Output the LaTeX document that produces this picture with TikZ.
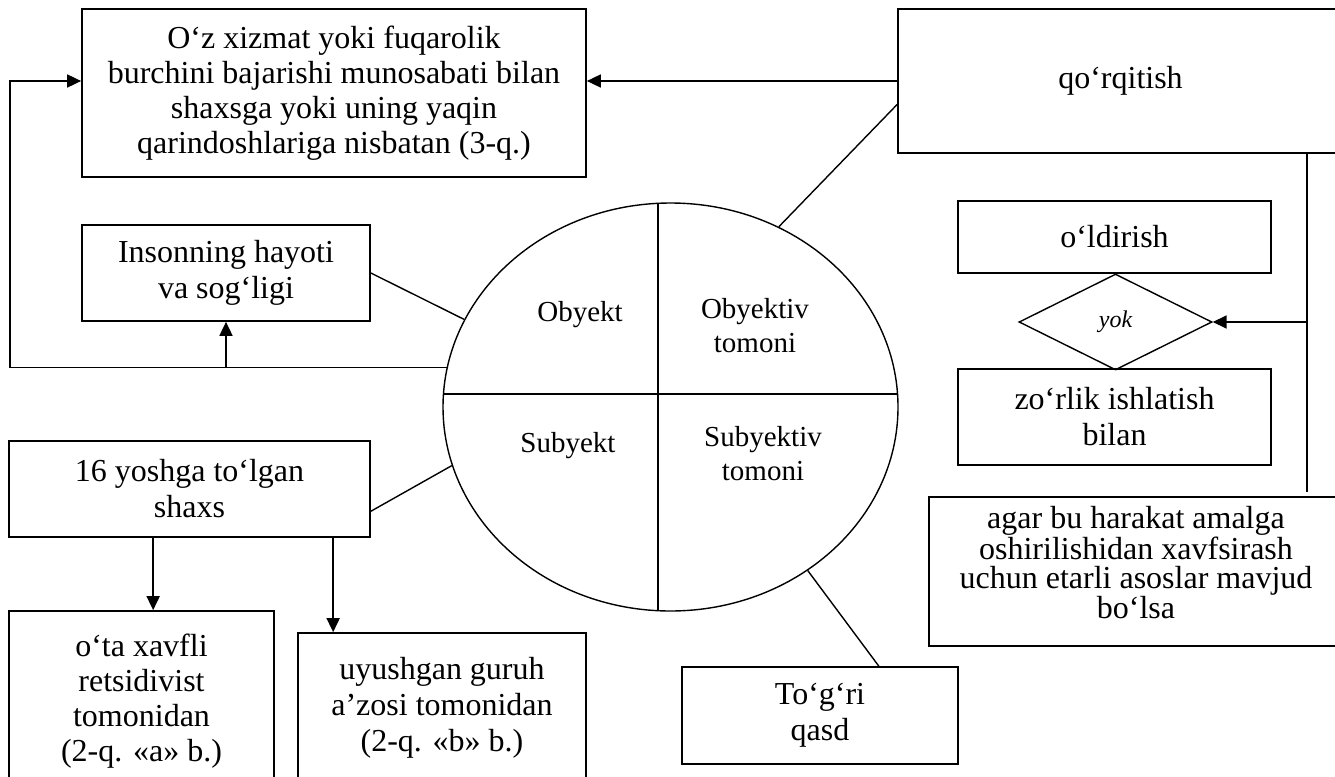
\documentclass[tikz,border=0pt]{standalone}
\usepackage{fontspec}
\setmainfont{Liberation Serif}
\usetikzlibrary{shapes.geometric,arrows.meta}
\begin{document}
\begin{tikzpicture}[x=1pt,y=-1pt,
  box/.style={draw,line width=1.7pt,inner sep=0pt,align=center,font=\fontsize{32}{36}\selectfont},
  arr/.style={line width=1.7pt,-{Triangle[length=14pt,width=13pt]}},
  conn/.style={line width=1.4pt},
  lbl/.style={align=center,font=\fontsize{29}{34}\selectfont,inner sep=0pt}]
\clip (0,0) rectangle (1335,776);
\fill[white] (0,0) rectangle (1335,776);

% boxes
\node[box,minimum width=504pt,minimum height=168pt,font=\fontsize{32}{35}\selectfont] (tb) at (334,93)
  {O‘z xizmat yoki fuqarolik\\burchini bajarishi munosabati bilan\\shaxsga yoki uning yaqin\\qarindoshlariga nisbatan (3-q.)};
\node[box,minimum width=445pt,minimum height=144pt] (qo) at (1120.5,81) {qo‘rqitish};
\node[box,minimum width=288pt,minimum height=96pt] (ins) at (226,273) {Insonning hayoti\\va sog‘ligi};
\node[box,minimum width=361pt,minimum height=96pt] (yo) at (189.5,489) {16 yoshga to‘lgan\\shaxs};
\node[box,minimum width=265pt,minimum height=180pt,font=\fontsize{32}{35}\selectfont] (ota) at (141.5,701)
  {o‘ta xavfli\\retsidivist\\tomonidan\\(2-q. «a» b.)};
\node[box,minimum width=288pt,minimum height=150pt] (uy) at (442,708)
  {uyushgan guruh\\a’zosi tomonidan\\(2-q. «b» b.)};
\node[box,minimum width=276pt,minimum height=97pt] (tq) at (820,715.5) {To‘g‘ri\\qasd};
\node[box,minimum width=313pt,minimum height=72pt] (ol) at (1114.5,237) {o‘ldirish};
\node[draw,diamond,line width=1.4pt,minimum width=193pt,minimum height=96pt,inner sep=0pt,
  font=\fontsize{24}{28}\selectfont\itshape] (dm) at (1115.5,322) {yok};
\node[box,minimum width=313pt,minimum height=96pt] (zo) at (1114.5,417) {zo‘rlik ishlatish\\bilan};
\node[box,minimum width=414pt,minimum height=149pt,font=\fontsize{32}{29}\selectfont] (ag) at (1136,571.5)
  {agar bu harakat amalga\\oshirilishidan xavfsirash\\uchun etarli asoslar mavjud\\bo‘lsa\rule[-18pt]{0pt}{1pt}};

% ellipse
\node[draw,ellipse,line width=1.4pt,minimum width=455pt,minimum height=408pt,inner sep=0pt] (ell) at (670.5,407) {};
\coordinate (et) at (658,203.3);
\coordinate (eb) at (658,610.7);
\coordinate (el) at (443.5,394);
\coordinate (er) at (897.5,394);
\draw[conn] (et) -- (eb);
\draw[conn] (el) -- (er);
\node[lbl] (l1) at (580,315) {Obyekt};
\node[lbl] (l2) at (755,326) {Obyektiv\\tomoni};
\node[lbl] (l3) at (568,446) {Subyekt};
\node[lbl] (l4) at (763,453.5) {Subyektiv\\tomoni};

% connectors
\coordinate (xl) at (10,81);
\coordinate (xr) at (1307,0);
\coordinate (vb) at ([yshift=4pt]ag.north);
\draw[arr] (qo.west) -- (qo.west -| tb.east);
\draw[arr] (ell.170.3) -| (xl) -- (tb.west |- qo.west);
\draw[arr] (ins.south |- ell.170.3) -- (ins.south);
\draw[conn] (ins.east) -- (ell.157);
\draw[conn] (yo.-7.6) -- (ell.195.6);
\draw[conn] (qo.186.4) -- (ell.59.4);
\draw[conn] (ell.310.5) -- (tq.40.4);
\coordinate (a1) at ([xshift=145pt]yo.south west);
\coordinate (a2) at ([xshift=325pt]yo.south west);
\draw[arr] (a1) -- (a1 |- ota.north);
\draw[arr] (a2) -- (a2 |- uy.north);
\draw[line width=1.7pt] (qo.south -| xr) -- (vb -| xr);
\draw[arr] (dm.east -| xr) -- (dm.east);
\end{tikzpicture}
\end{document}
